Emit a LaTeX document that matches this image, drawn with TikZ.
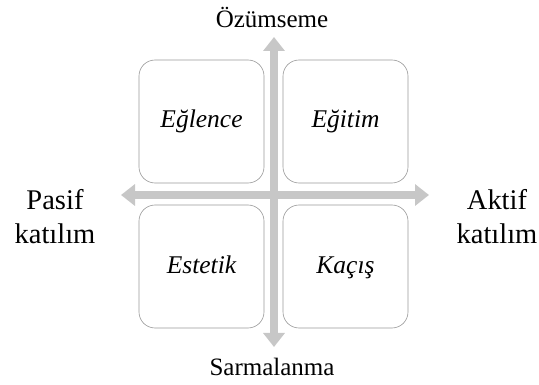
\documentclass[tikz,border=0pt]{standalone}
\usepackage{fontspec}
\setmainfont{Liberation Serif}
\usetikzlibrary{arrows.meta}
\begin{document}
\begin{tikzpicture}[x=1pt,y=-1pt,
  quad/.style={draw=black!40, line width=0.6pt, rounded corners=16pt, fill=white,
    minimum width=125pt, minimum height=123pt, inner sep=0pt,
    text height=17pt, text depth=4pt,
    font=\fontsize{25.5}{30}\selectfont\itshape},
  axis/.style={draw=black!22, line width=8pt,
    {Triangle[width=21pt,length=14pt]}-{Triangle[width=21pt,length=14pt]}},
  lbl/.style={font=\fontsize{25}{30}\selectfont, inner sep=0pt},
  side/.style={font=\fontsize{28.5}{35}\selectfont, align=center, inner sep=0pt}]
\useasboundingbox (0,0) rectangle (539,385);
\coordinate (L) at (121,195);
\coordinate (R) at (429,195);
\coordinate (T) at (274,37);
\coordinate (B) at (274,347);
\draw[axis] (L) -- (R);
\draw[axis] (T) -- (B);
\node[quad] (egl) at (201.5,121.5) {Eğlence};
\node[quad] (egi) at (345.5,121.5) {Eğitim};
\node[quad] (est) at (201.5,266.5) {Estetik};
\node[quad] (kac) at (345.5,266.5) {Kaçış};
\node[lbl, anchor=base] (top) at (272,28) {Özümseme};
\node[lbl, anchor=base] (bot) at (272,375) {Sarmalanma};
\node[side, anchor=base] (pas) at (55,244) {Pasif\\katılım};
\node[side, anchor=base] (akt) at (497,244) {Aktif\\katılım};
\end{tikzpicture}
\end{document}
